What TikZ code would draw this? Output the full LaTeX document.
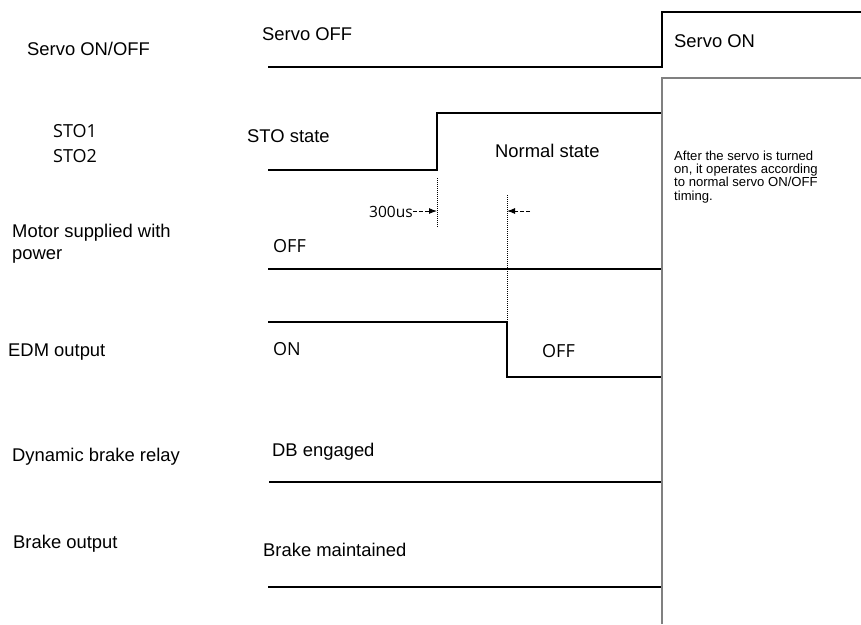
\documentclass[tikz,border=0pt]{standalone}
\usepackage{fontspec}
\setmainfont{Liberation Sans}
\newfontfamily\segoefont{Open Sans}
\usepackage{xcolor}
\definecolor{tdblack}{RGB}{0,0,0}
\definecolor{tdgray}{RGB}{128,128,128}
\usepackage{tikz}
\usetikzlibrary{arrows.meta}

\newcommand{\lblfont}{\fontsize{18.4}{22}\selectfont}
\newcommand{\segfont}{\segoefont\fontsize{18}{25}\selectfont}
\newcommand{\notefont}{\fontsize{13.1}{13.3}\selectfont}

\begin{document}
\begin{tikzpicture}[x=1pt, y=-1pt,
    txt/.style={anchor=base west, inner sep=0pt, align=left},
    sig/.style={line width=1.6pt, tdblack},
    guide/.style={line width=0.9pt, dash pattern=on 1pt off 1pt},
    dimarrow/.style={line width=1pt, dash pattern=on 4pt off 2pt, -{Latex[length=8pt,width=6pt]}}]
  \useasboundingbox (0,0) rectangle (861,624);

  % --- Signal names (left column) ---
  % (multi-line nodes: base = baseline of last line)
  \node[txt, font=\lblfont] (nservo) at (27,55) {Servo ON/OFF};
  \node[txt, font=\segfont] (nsto) at (53,162) {STO1\\STO2};
  \node[txt, font=\lblfont] (nmotor) at (12,259) {Motor supplied with\\power};
  \node[txt, font=\lblfont] (nedm) at (8,356) {EDM output};
  \node[txt, font=\lblfont] (ndb) at (12,461) {Dynamic brake relay};
  \node[txt, font=\lblfont] (nbrake) at (13,548) {Brake output};

  % --- Servo ON/OFF ---
  \node[txt, font=\lblfont] (soff) at (262,40) {Servo OFF};
  \node[txt, font=\lblfont] (son) at (674,47) {Servo ON};
  \draw[sig] (268,67) -- (662,67) -- (662,12) -- (861,12);

  % --- STO1 / STO2 ---
  \node[txt, font=\lblfont] (stostate) at (247,142) {STO state};
  \node[txt, font=\lblfont] (normal) at (495,157) {Normal state};
  \coordinate (stoup) at (437,170);
  \draw[sig] (268,170) -- (stoup) -- (437,113) -- (662,113);

  % timing marks
  \coordinate (edmfall) at (507,322);
  \draw[guide] (437,178) -- (437,227);
  \draw[guide] (507,195) -- (edmfall);
  \node[txt, font=\segoefont\fontsize{15.5}{17}\selectfont] (t300) at (369,217) {300us};
  \coordinate (t300tip) at (437,211);
  \coordinate (dtip) at (507,211);
  \coordinate (dend) at (530,211);
  \draw[dimarrow] (t300.east |- t300tip) -- (t300tip);
  \draw[dimarrow] (dend) -- (dtip);

  % --- Motor power ---
  \node[txt, font=\segfont] (moff) at (273,252) {OFF};
  \draw[sig] (268,269) -- (662,269);

  % --- EDM output ---
  \node[txt, font=\segfont] (edmon) at (273,355) {ON};
  \node[txt, font=\segfont] (edmoff) at (542,357) {OFF};
  \draw[sig] (268,322) -- (edmfall) -- (507,377) -- (662,377);

  % --- Dynamic brake relay ---
  \node[txt, font=\lblfont] (dbeng) at (272,456) {DB engaged};
  \draw[sig] (269,482) -- (662,482);

  % --- Brake output ---
  \node[txt, font=\lblfont] (bmaint) at (263,556) {Brake maintained};
  \draw[sig] (268,587) -- (662,587);

  % --- Servo ON region ---
  \draw[tdgray, line width=1.8pt] (662,624) -- (662,78) -- (861,78);
  \node[txt, font=\notefont] (note) at (674,200)
    {After the servo is turned\\on, it operates according\\to normal servo ON/OFF\\timing.};
\end{tikzpicture}
\end{document}
